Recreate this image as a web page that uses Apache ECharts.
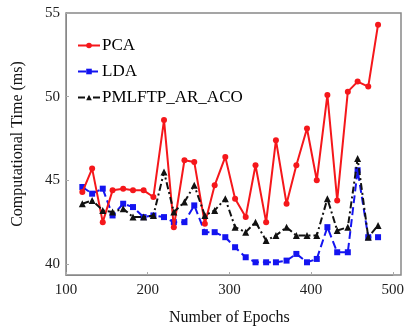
<!DOCTYPE html>
<html>
<head>
<meta charset="utf-8">
<script src="https://cdn.jsdelivr.net/npm/echarts@6/dist/echarts.min.js"></script>
<style>
  html, body { margin: 0; padding: 0; background: #fff; }
  #chart { width: 407px; height: 333px; }
</style>
</head>
<body>
<div id="chart"></div>
<script>
// epochs (x) and computational time (ms) per method
var epochs = [120, 132, 145, 157, 170, 182, 195, 207, 220, 232, 245, 257, 270, 282, 295,
              307, 320, 332, 345, 357, 370, 382, 395, 407, 420, 432, 445, 457, 470, 482];
var pca = [44.3, 45.7, 42.5, 44.4, 44.5, 44.4, 44.4, 44.0, 48.6, 42.2, 46.2, 46.1, 42.4, 44.7, 46.4,
           43.9, 42.8, 45.9, 42.5, 47.4, 43.6, 45.9, 48.1, 45.0, 50.1, 43.8, 50.3, 50.9, 50.6, 54.3];
var lda = [44.6, 44.2, 44.5, 42.9, 43.6, 43.4, 42.8, 42.9, 42.8, 42.5, 42.5, 43.5, 41.9, 41.9, 41.6,
           41.0, 40.4, 40.1, 40.1, 40.1, 40.2, 40.6, 40.1, 40.3, 42.2, 40.7, 40.7, 45.6, 41.6, 41.6];
var ours = [43.6, 43.8, 43.2, 43.1, 43.3, 42.8, 42.8, 42.9, 45.5, 43.1, 43.7, 44.7, 42.9, 43.2, 43.9,
            42.2, 41.9, 42.5, 41.4, 41.7, 42.2, 41.7, 41.7, 41.7, 43.9, 42.0, 42.2, 46.3, 41.6, 42.3];
var yTicks = [40, 45, 50, 55];

function pairs(ys) {
  return ys.map(function (v, i) { return [epochs[i], v]; });
}

var serif = '"Liberation Serif", "DejaVu Serif", serif';
var chart = echarts.init(document.getElementById('chart'));
chart.setOption({
  animation: false,
  grid: { left: 66, right: 6, top: 13, bottom: 58 },
  legend: {
    orient: 'vertical',
    left: 72,
    top: 32,
    itemGap: 9,
    itemWidth: 22,
    itemHeight: 7,
    textStyle: { fontFamily: serif, fontSize: 17, color: '#000', padding: [0, 0, 0, -3] },
    data: ['PCA', 'LDA', 'PMLFTP_AR_ACO']
  },
  xAxis: {
    type: 'value',
    min: 100,
    max: 500,
    interval: 100,
    name: 'Number of Epochs',
    nameLocation: 'middle',
    nameGap: 35,
    nameTextStyle: { fontFamily: serif, fontSize: 16, color: '#111' },
    axisLine: { lineStyle: { color: '#888' } },
    axisTick: { inside: true, length: 3, lineStyle: { color: '#aaa' } },
    axisLabel: { fontFamily: serif, fontSize: 15, color: '#222', margin: 8 },
    splitLine: { show: false }
  },
  yAxis: {
    type: 'value',
    min: 39.34,
    max: 55,
    name: 'Computational Time (ms)',
    nameLocation: 'middle',
    nameGap: 40,
    nameTextStyle: { fontFamily: serif, fontSize: 16, color: '#111' },
    axisLine: { show: true, lineStyle: { color: '#888' } },
    axisTick: { inside: true, length: 3, customValues: yTicks, lineStyle: { color: '#aaa' } },
    axisLabel: { fontFamily: serif, fontSize: 15, color: '#222', margin: 6, customValues: yTicks },
    splitLine: { show: false }
  },
  series: [
    {
      name: 'PCA',
      type: 'line',
      data: pairs(pca),
      symbol: 'circle',
      symbolSize: 6,
      itemStyle: { color: '#f5171b' },
      lineStyle: { color: '#f5171b', width: 2 },
      z: 3
    },
    {
      name: 'LDA',
      type: 'line',
      data: pairs(lda),
      symbol: 'rect',
      symbolSize: 6,
      itemStyle: { color: '#1414f0' },
      lineStyle: { color: '#1414f0', width: 2, type: [8, 4] },
      z: 2
    },
    {
      name: 'PMLFTP_AR_ACO',
      type: 'line',
      data: pairs(ours),
      symbol: 'triangle',
      symbolSize: 7,
      itemStyle: { color: '#111' },
      lineStyle: { color: '#111', width: 2, type: [7, 3, 2, 3] },
      z: 4
    }
  ],
  graphic: [
    {
      type: 'rect',
      shape: { x: 66, y: 13, width: 335, height: 262 },
      style: { fill: 'none', stroke: '#888', lineWidth: 1.5 },
      silent: true
    }
  ]
});
</script>
</body>
</html>
